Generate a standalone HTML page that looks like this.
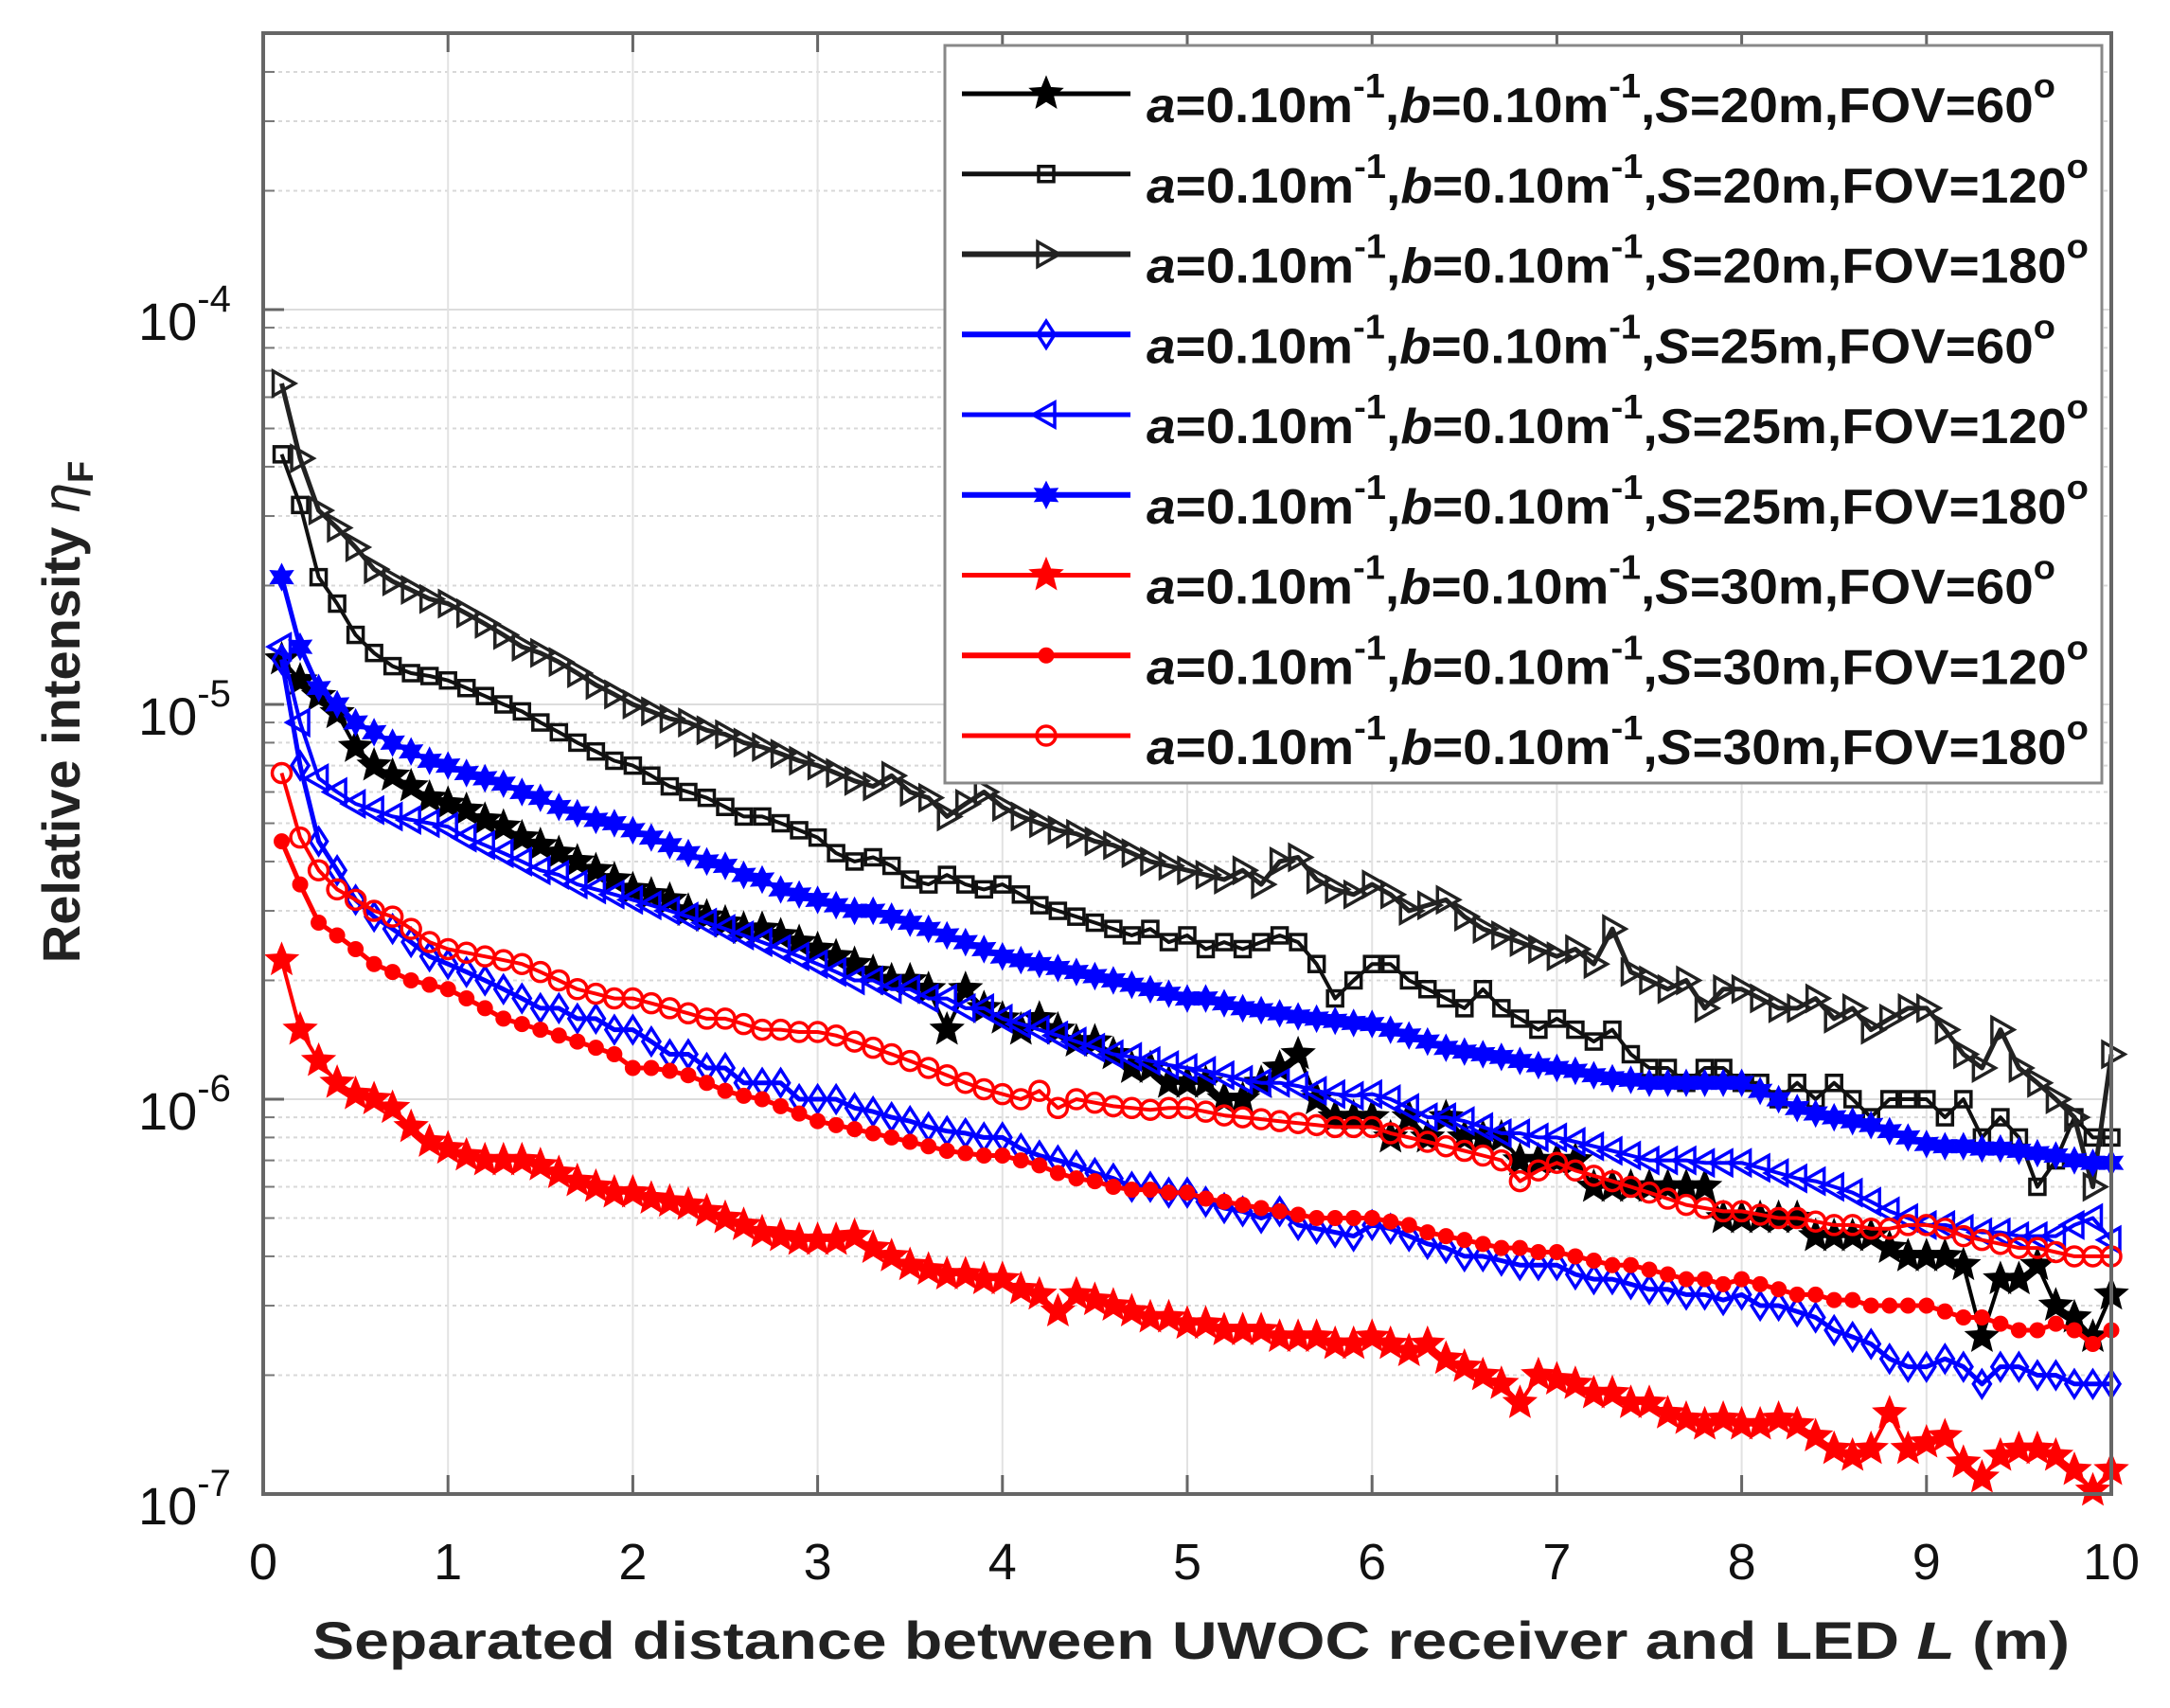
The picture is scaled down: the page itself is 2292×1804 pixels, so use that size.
<!DOCTYPE html>
<html><head><meta charset="utf-8"><style>html,body{margin:0;padding:0;background:#fff}svg{display:block}</style></head>
<body>
<svg id="chart" width="2292" height="1804" viewBox="0 0 2292 1804" xmlns="http://www.w3.org/2000/svg" font-family="'Liberation Sans', Arial, sans-serif">
<rect x="0" y="0" width="2292" height="1804" fill="#fff"/>
<g id="grid"></g>
<g id="series"></g>
<g id="axes"></g>
<g id="legend"></g>
</svg>
<script>
const xTicks = [0,1,2,3,4,5,6,7,8,9,10];
const yDecades = [-7,-6,-5,-4];
const xValues = [];
for (let i = 1; i <= 100; i++) xValues.push(+(i/10).toFixed(1));
// values in units of 1e-7
const s20fov60 = [130,115,105,95,78,70,66,62,58,56, 54,51,49,46,44,42,40,38,36,34, 33,32,30,29,28,27,27,26,25,24, 23,22,21,20,20,19,15,19,17,16, 15,16,15,14,14,13,12,12,11,11, 11,10,10,11,12,13,10,9,9,9, 8,9,8,9,8,8,8,7,7,7, 7,6,6,6,6,6,6,6,5,5, 5,5,5,4.5,4.5,4.5,4.5,4.2,4,4, 4,3.8,2.5,3.5,3.5,3.8,3,2.8,2.5,3.2];
const s20fov120 = [430,320,210,180,150,135,125,120,118,115, 110,105,100,96,90,85,80,76,72,70, 66,62,60,58,55,52,52,50,48,46, 42,40,41,39,36,35,37,35,34,35, 33,31,30,29,28,27,26,27,25,26, 24,25,24,25,26,25,22,18,20,22, 22,20,19,18,17,19,17,16,15,16, 15,14,15,13,12,12,11,12,12,11, 11,10,11,10,11,10,9,10,10,10, 9,10,8,9,8,6,7,9,8,8];
const s20fov180 = [650,420,310,280,250,220,205,195,185,180, 170,160,150,140,135,128,120,112,106,100, 96,92,90,86,84,80,78,75,72,70, 67,64,62,66,60,58,52,56,60,55, 52,50,48,47,45,44,42,40,39,38, 37,36,38,35,40,41,36,34,33,35, 33,30,31,32,29,27,26,25,24,23, 24,22,27,21,20,19,20,17,19,19, 18,17,17,18,16,17,15,16,17,17, 15,13,12,15,12,11,10,9,6,13];
const s25fov60 = [130,70,45,38,32,29,27,25,23,22, 21,20,19,18,17,17,16,16,15,15, 14,13,13,12,12,11,11,11,10,10, 10,9.5,9.3,9,8.8,8.5,8.3,8.2,8,8, 7.5,7.2,7,6.8,6.5,6.3,6,6,5.8,5.8, 5.5,5.3,5.2,5,5.2,4.8,4.7,4.6,4.5,4.8, 4.7,4.5,4.3,4.2,4,4,3.9,3.8,3.8,3.8, 3.6,3.5,3.5,3.4,3.3,3.3,3.2,3.2,3.1,3.2, 3,3,2.9,2.8,2.6,2.5,2.4,2.2,2.1,2.1, 2.2,2.1,1.9,2.1,2.1,2,2,1.9,1.9,1.9];
const s25fov120 = [140,90,65,60,56,54,52,51,50,49, 46,44,42,40,38,37,35,34,33,32, 31,30,29,28,27,26,25,24,23,22, 21,20,20,19,19,18,18,17,17,16, 15.5,15,14.5,14,13.5,13,12.8,12.5,12.2,12, 11.8,11.5,11.2,11,11,10.8,10.5,10.3,10.2,10.3, 10,9.5,9,9,8.8,8.5,8.2,8.2,8,8, 7.8,7.6,7.4,7.2,7,7,7,6.9,6.9,6.9, 6.7,6.5,6.3,6.2,6,5.8,5.5,5.2,5,4.8, 4.8,4.7,4.6,4.6,4.5,4.5,4.5,4.8,5,4.4];
const s25fov180 = [210,140,110,100,90,85,80,76,72,70, 67,65,63,60,58,55,53,51,50,48, 46,44,42,40,39,37,36,34,33,32, 31,30,30,29,28,27,26,25,24,23, 22.5,22,21.5,21,20.5,20,19.5,19,18.5,18, 18,17.5,17,16.8,16.5,16.2,16,15.8,15.6,15.5, 15,14.5,14,13.5,13.2,13,12.8,12.5,12.2,12, 11.8,11.5,11.3,11.2,11,11,11,11,11,11, 10.5,10,9.5,9.2,9,8.8,8.6,8.3,8,7.7, 7.6,7.6,7.5,7.5,7.4,7.3,7.2,7,6.9,6.9];
const s30fov60 = [22.5,15,12.5,11,10.3,10,9.5,8.5,7.8,7.5, 7.2,7,7,7,6.8,6.5,6.2,6,5.8,5.8, 5.6,5.5,5.4,5.2,5,4.8,4.6,4.5,4.4,4.4, 4.4,4.5,4.2,4,3.8,3.7,3.6,3.6,3.5,3.5, 3.3,3.2,2.9,3.2,3.1,3,2.9,2.8,2.8,2.7, 2.7,2.6,2.6,2.6,2.5,2.5,2.5,2.4,2.4,2.5, 2.4,2.3,2.4,2.2,2.1,2,1.9,1.7,2,1.95, 1.9,1.8,1.8,1.7,1.7,1.6,1.55,1.5,1.55,1.5, 1.5,1.55,1.5,1.4,1.3,1.25,1.3,1.6,1.3,1.35, 1.4,1.2,1.1,1.25,1.3,1.3,1.25,1.15,1.02,1.15];
const s30fov120 = [45,35,28,26,24,22,21,20,19.5,19, 18,17,16,15.5,15,14.5,14,13.5,13,12, 12,11.8,11.5,11,10.5,10.2,10,9.6,9.2,8.8, 8.6,8.4,8.2,8,7.8,7.6,7.4,7.3,7.2,7.2, 7,6.8,6.5,6.3,6.2,6,5.9,5.9,5.8,5.8, 5.6,5.5,5.4,5.3,5.2,5.1,5,5,5,5, 4.9,4.8,4.6,4.5,4.4,4.3,4.2,4.2,4.1,4.1, 4,3.9,3.8,3.8,3.7,3.6,3.5,3.5,3.4,3.5, 3.4,3.3,3.2,3.2,3.1,3.1,3,3,3,3, 2.9,2.8,2.8,2.7,2.6,2.6,2.7,2.6,2.4,2.6];
const s30fov180 = [67,46,38,34,32,30,29,27,25,24, 23.5,23,22.5,22,21,20,19,18.5,18,18, 17.5,17,16.5,16,16,15.5,15,15,14.8,14.8, 14.5,14,13.5,13,12.5,12,11.5,11,10.6,10.3, 10,10.5,9.5,10,9.8,9.6,9.5,9.4,9.5,9.5, 9.3,9.1,9,8.9,8.8,8.7,8.6,8.5,8.5,8.5, 8.2,8,7.8,7.6,7.4,7.2,7,6.2,6.6,6.9, 6.6,6.4,6.2,6,5.8,5.6,5.4,5.3,5.2,5.2, 5.1,5,5,4.9,4.8,4.8,4.7,4.7,4.8,4.8, 4.7,4.5,4.4,4.3,4.2,4.2,4.1,4,4,4];
const legendS = ["20","20","20","25","25","25","30","30","30"];
const legendFov = ["60","120","180","60","120","180","60","120","180"];

const NS = "http://www.w3.org/2000/svg";
const X0 = 278, XU = 195.2, YB = 1578, DEC = 417, YT = 35, XR = 2230;
function xs(v){ return X0 + v*XU; }
function ys(v){ return YB - (Math.log10(v*1e-7) + 7)*DEC; }
function mk(tag, attrs, parent){ const e = document.createElementNS(NS, tag); for (const k in attrs) e.setAttribute(k, attrs[k]); parent.appendChild(e); return e; }

const grid = document.getElementById('grid');
for (let d = -7; d <= -4; d++) {
  for (let m = 2; m <= 9; m++) {
    const y = YB - (d + 7 + Math.log10(m))*DEC;
    if (y < YT) continue;
    const l = mk('line', {x1:X0, x2:XR, y1:y, y2:y, stroke:'#d8d8d8', 'stroke-width':2, 'stroke-dasharray':'4 4'}, grid);
    
    
    const t1 = mk('line', {x1:X0, x2:X0+12, y1:y, y2:y, stroke:'#777', 'stroke-width':2}, grid);
    
    
  }
}
yDecades.forEach(d => {
  const y = YB - (d+7)*DEC;
  const l = mk('line', {x1:X0, x2:XR, y1:y, y2:y, stroke:'#dcdcdc', 'stroke-width':2}, grid);
  
  
});
xTicks.forEach(v => {
  const x = xs(v);
  const l = mk('line', {x1:x, x2:x, y1:YT, y2:YB, stroke:'#e2e2e2', 'stroke-width':2}, grid);
  
  
});

function marker(type, x, y, color, parent){
  let e;
  const sw = 3.5;
  if (type === 'star' || type === 'star6') {
    const R = type==='star' ? 17 : 13, r = type==='star' ? 7.5 : 7, n = type==='star' ? 5 : 6;
    let p = [];
    for (let i = 0; i < 2*n; i++) { const a = -Math.PI/2 + i*Math.PI/n; const rr = i%2 ? r : R; p.push((x+rr*Math.cos(a)).toFixed(1)+','+(y+rr*Math.sin(a)).toFixed(1)); }
    e = mk('polygon', {points:p.join(' '), fill:color, stroke:color, 'stroke-width':2}, parent);
  } else if (type === 'square') {
    e = mk('rect', {x:x-8, y:y-8, width:16, height:16, fill:'none', stroke:color, 'stroke-width':sw}, parent);
  } else if (type === 'tright') {
    e = mk('polygon', {points:`${x-9},${y-13} ${x+14},${y} ${x-9},${y+13}`, fill:'none', stroke:color, 'stroke-width':sw}, parent);
  } else if (type === 'tleft') {
    e = mk('polygon', {points:`${x+9},${y-13} ${x-14},${y} ${x+9},${y+13}`, fill:'none', stroke:color, 'stroke-width':sw}, parent);
  } else if (type === 'diamond') {
    e = mk('polygon', {points:`${x},${y-14} ${x+9},${y} ${x},${y+14} ${x-9},${y}`, fill:'none', stroke:color, 'stroke-width':sw}, parent);
  } else if (type === 'dot') {
    e = mk('circle', {cx:x, cy:y, r:8, fill:color, stroke:color, 'stroke-width':1}, parent);
  } else {
    e = mk('circle', {cx:x, cy:y, r:10, fill:'none', stroke:color, 'stroke-width':sw}, parent);
  }
  return e;
}

const seriesList = [
  {d:s20fov60, c:'#000000', m:'star', w:4},
  {d:s20fov120, c:'#111111', m:'square', w:4},
  {d:s20fov180, c:'#222222', m:'tright', w:5},
  {d:s25fov60, c:'#0000ff', m:'diamond', w:5},
  {d:s25fov120, c:'#0000ff', m:'tleft', w:4},
  {d:s25fov180, c:'#0000ff', m:'star6', w:5},
  {d:s30fov60, c:'#ff0000', m:'star', w:4},
  {d:s30fov120, c:'#ff0000', m:'dot', w:5},
  {d:s30fov180, c:'#ff0000', m:'circle', w:4}
];
const sg = document.getElementById('series');
seriesList.forEach((s, si) => {
  const g = mk('g', {}, sg);
  
  
  const pts = s.d.map((v,i) => xs(xValues[i]).toFixed(1)+','+ys(v).toFixed(1)).join(' ');
  const pl = mk('polyline', {points:pts, fill:'none', stroke:s.c, 'stroke-width':s.w, 'stroke-linejoin':'round'}, g);
  
  
  s.d.forEach((v,i) => {
    const e = marker(s.m, xs(xValues[i]), ys(v), s.c, g);
    
    
  });
});

const ax = document.getElementById('axes');
const box = mk('rect', {x:X0, y:YT, width:XR-X0, height:YB-YT, fill:'none', stroke:'#666', 'stroke-width':4}, ax);


xTicks.forEach(v => {
  const x = xs(v);
  const t = mk('line', {x1:x, x2:x, y1:YB, y2:YB-20, stroke:'#666', 'stroke-width':3}, ax);
  
  
  const t2 = mk('line', {x1:x, x2:x, y1:YT, y2:YT+20, stroke:'#666', 'stroke-width':3}, ax);
  
  
  const lb = mk('text', {x:x, y:1668, 'font-size':54, 'text-anchor':'middle', fill:'#111'}, ax);
  lb.textContent = String(v);
  
  
});
yDecades.forEach(d => {
  const y = YB - (d+7)*DEC;
  const t = mk('line', {x1:X0, x2:X0+22, y1:y, y2:y, stroke:'#666', 'stroke-width':3}, ax);
  
  
  const lb = mk('text', {x:146, y:y+32, 'font-size':56, fill:'#111'}, ax);
  
  
  const a = mk('tspan', {}, lb); a.textContent = '10';
  const b = mk('tspan', {dy:-30, 'font-size':40}, lb); b.textContent = String(d);
});

const xt = mk('text', {x:1258, y:1752, 'font-size':56, 'font-weight':'bold', 'text-anchor':'middle', fill:'#222', textLength:1856, lengthAdjust:'spacingAndGlyphs'}, ax);


xt.innerHTML = 'Separated distance between UWOC receiver and LED <tspan font-style="italic">L</tspan> (m)';
const yt = mk('text', {x:0, y:0, 'font-size':56, 'font-weight':'bold', 'text-anchor':'middle', fill:'#222', transform:'translate(84,752) rotate(-90)'}, ax);


yt.innerHTML = 'Relative intensity <tspan font-style="italic" font-weight="normal">η</tspan><tspan font-size="38" dy="14">F</tspan>';

const lg = document.getElementById('legend');
const lbx = mk('rect', {x:998, y:48, width:1222, height:779, fill:'#fff', stroke:'#888', 'stroke-width':3}, lg);


seriesList.forEach((s, i) => {
  const cy = 99 + i*84.75;
  const g = mk('g', {}, lg);
  
  
  mk('line', {x1:1016, x2:1194, y1:cy, y2:cy, stroke:s.c, 'stroke-width':s.w+1}, g);
  marker(s.m, 1105, cy, s.c, g);
  const tx = mk('text', {x:1211, y:cy+30, 'font-size':52, 'font-weight':'bold', fill:'#111', textLength: legendFov[i]==='60' ? 960 : 995, lengthAdjust:'spacingAndGlyphs'}, g);
  
  
  tx.innerHTML = '<tspan font-style="italic">a</tspan>=0.10m<tspan font-size="36" dy="-26">-1</tspan><tspan dy="26">,</tspan><tspan font-style="italic">b</tspan>=0.10m<tspan font-size="36" dy="-26">-1</tspan><tspan dy="26">,</tspan><tspan font-style="italic">S</tspan>=' + legendS[i] + 'm,FOV=' + legendFov[i] + '<tspan font-size="36" dy="-26">o</tspan>';
});
</script>
</body></html>
